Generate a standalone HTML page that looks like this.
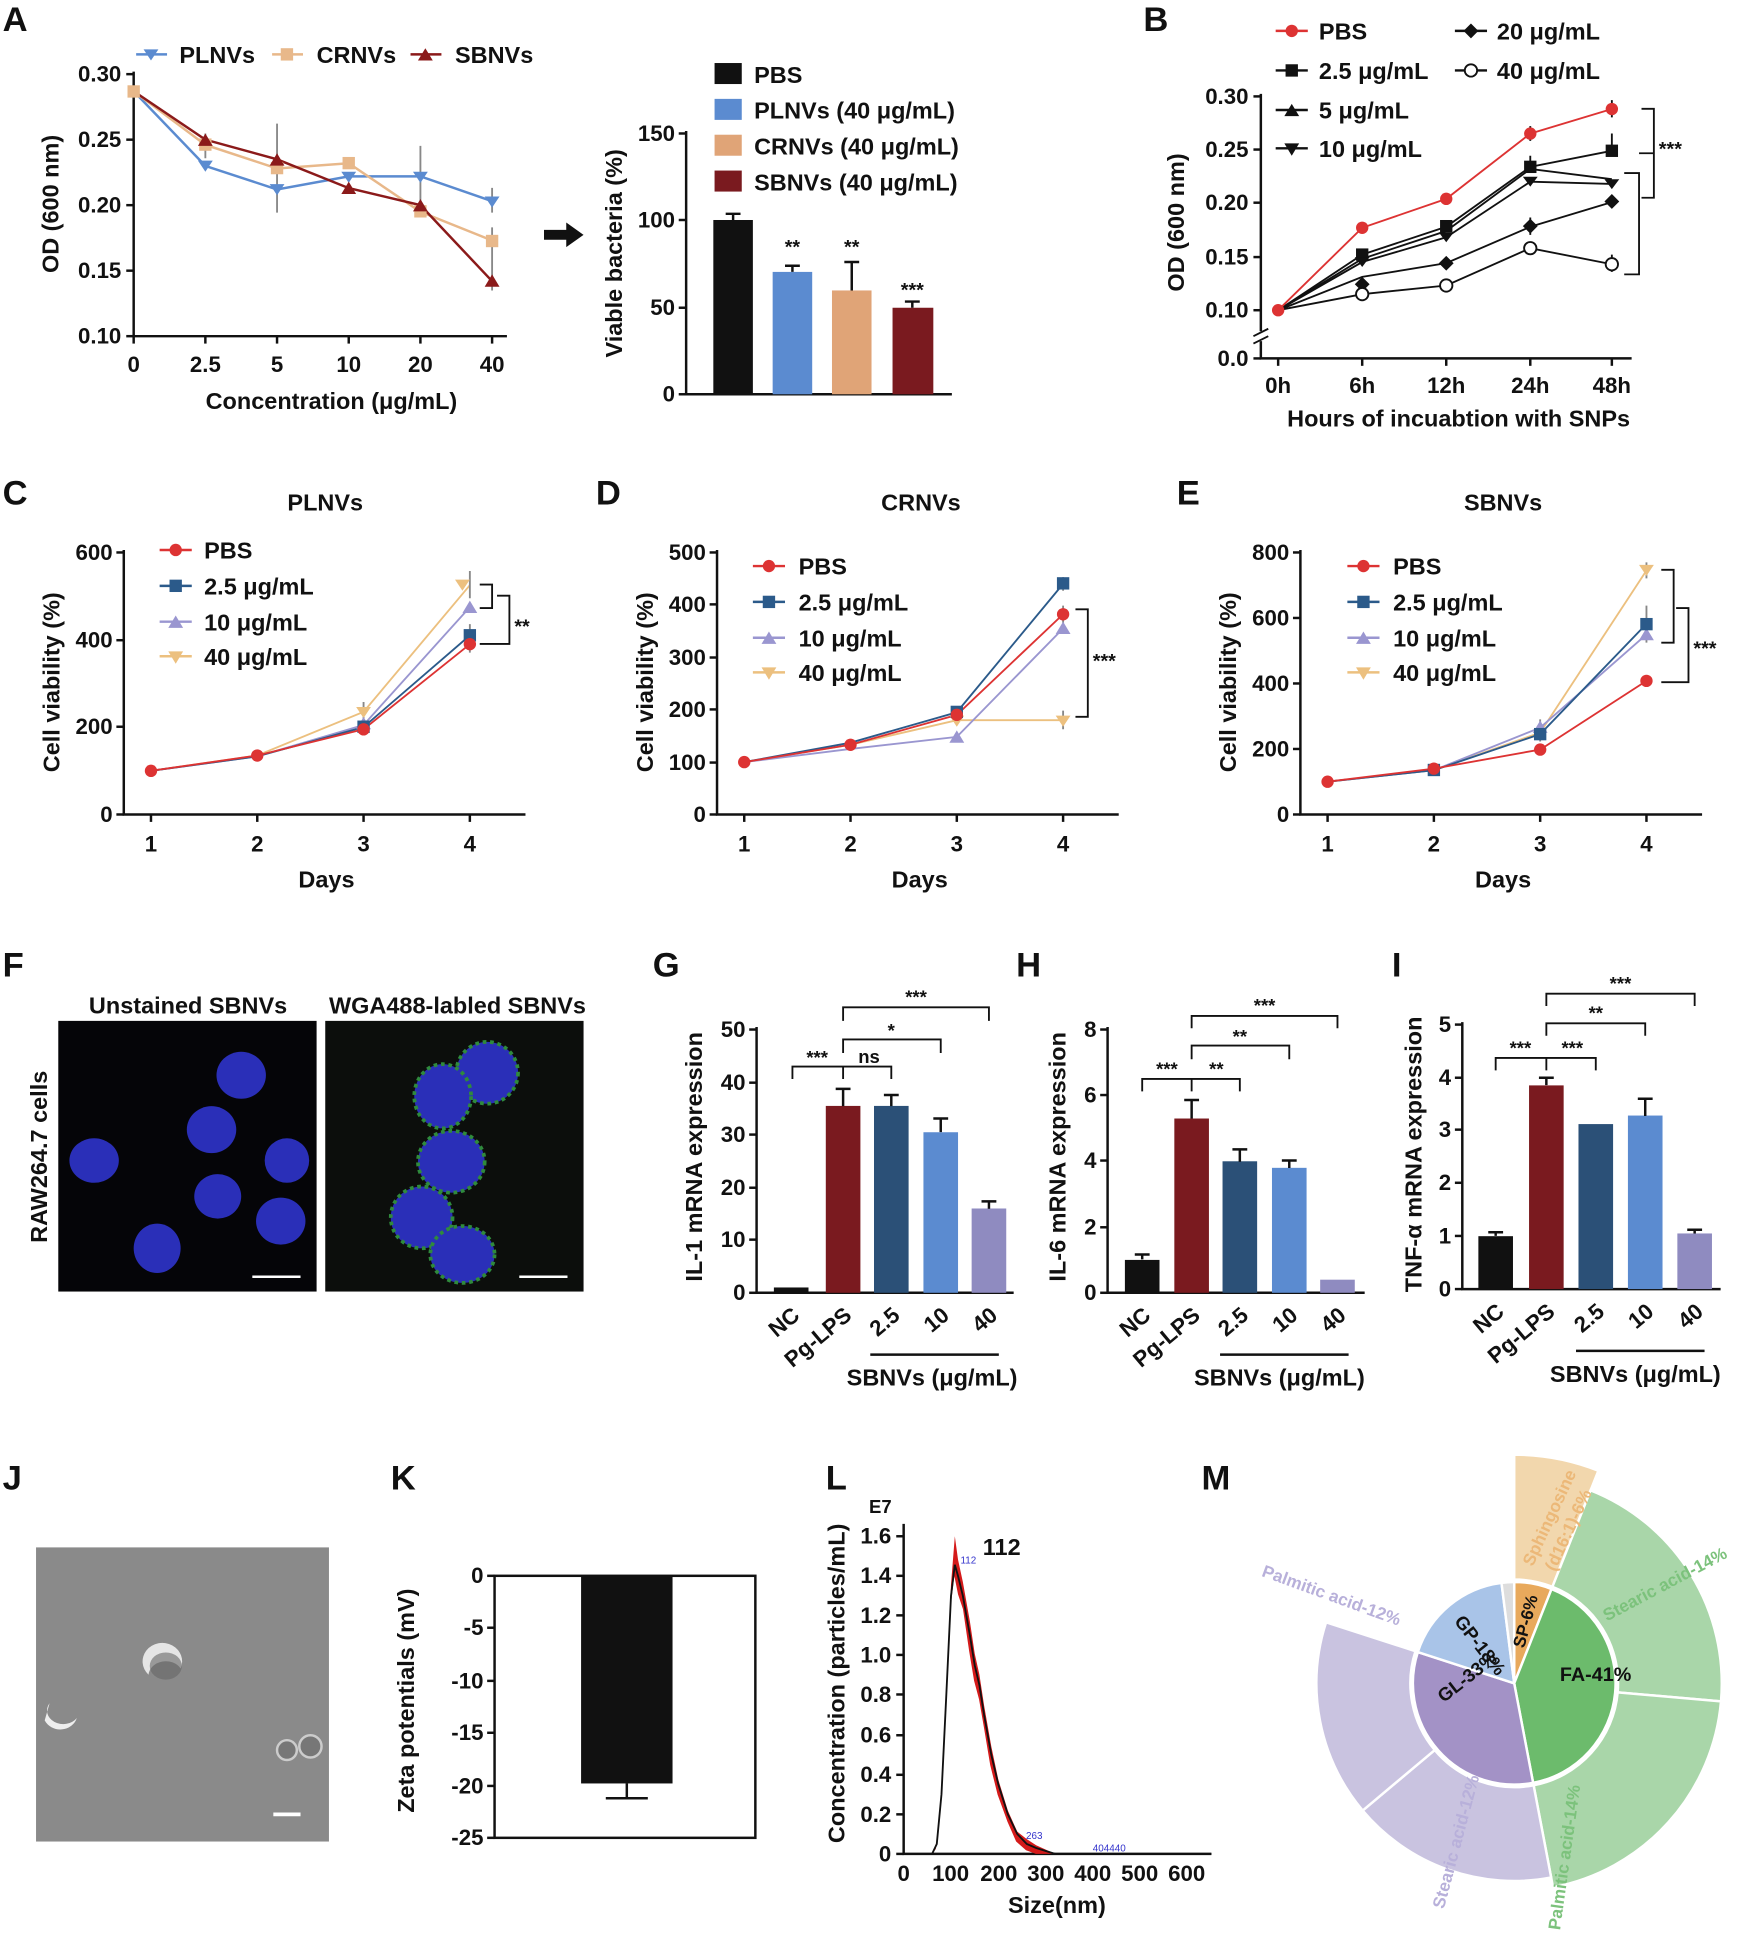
<!DOCTYPE html>
<html><head><meta charset="utf-8"><style>
html,body{margin:0;padding:0;background:#fff}
svg{display:block}
text{font-family:"Liberation Sans",Arial,sans-serif;font-weight:bold;fill:#111}
.ax{stroke:#111;stroke-width:2;fill:none}
.t{font-size:18px}
.l{font-size:19px}
.P{font-size:28px}
</style></head><body>
<svg width="1748" height="1933" viewBox="0 0 1414 1564" xmlns="http://www.w3.org/2000/svg">
<text class="P" x="2" y="25">A</text><text class="P" x="925" y="25">B</text>
<text class="P" x="2" y="408">C</text><text class="P" x="482" y="408">D</text><text class="P" x="952" y="408">E</text>
<text class="P" x="2" y="790">F</text><text class="P" x="528" y="790">G</text><text class="P" x="822" y="790">H</text><text class="P" x="1126" y="790">I</text>
<text class="P" x="2" y="1205">J</text><text class="P" x="316" y="1205">K</text><text class="P" x="668" y="1205">L</text><text class="P" x="972" y="1205">M</text>

<!-- ===== A left ===== -->
<g>
<line x1="110" y1="44" x2="135" y2="44" stroke="#5b8bd0" stroke-width="2"/><path d="M116,40 L128,40 L122,49Z" fill="#5b8bd0"/><text class="l" x="145" y="51">PLNVs</text>
<line x1="220" y1="44" x2="245" y2="44" stroke="#e8b88a" stroke-width="2"/><rect x="227" y="39" width="10" height="10" fill="#e8b88a"/><text class="l" x="256" y="51">CRNVs</text>
<line x1="332" y1="44" x2="357" y2="44" stroke="#8b1a1a" stroke-width="2"/><path d="M338,49 L350,49 L344,39Z" fill="#8b1a1a"/><text class="l" x="368" y="51">SBNVs</text>
<path class="ax" d="M108,58 V272 H410"/>
<g class="ax"><line x1="102" y1="60" x2="108" y2="60"/><line x1="102" y1="113" x2="108" y2="113"/><line x1="102" y1="166" x2="108" y2="166"/><line x1="102" y1="219" x2="108" y2="219"/><line x1="102" y1="272" x2="108" y2="272"/>
<line x1="108" y1="272" x2="108" y2="278"/><line x1="166" y1="272" x2="166" y2="278"/><line x1="224" y1="272" x2="224" y2="278"/><line x1="282" y1="272" x2="282" y2="278"/><line x1="340" y1="272" x2="340" y2="278"/><line x1="398" y1="272" x2="398" y2="278"/></g>
<g class="t" text-anchor="end"><text x="98" y="66">0.30</text><text x="98" y="119">0.25</text><text x="98" y="172">0.20</text><text x="98" y="225">0.15</text><text x="98" y="278">0.10</text></g>
<g class="t" text-anchor="middle"><text x="108" y="301">0</text><text x="166" y="301">2.5</text><text x="224" y="301">5</text><text x="282" y="301">10</text><text x="340" y="301">20</text><text x="398" y="301">40</text></g>
<text class="l" x="268" y="331" text-anchor="middle">Concentration (μg/mL)</text>
<text class="l" transform="translate(47,165) rotate(-90)" text-anchor="middle">OD (600 nm)</text>
<g stroke-width="1.5" fill="none">
<path d="M166,128V118 M224,138V172 M340,118V168 M398,152V172 M224,100V160 M398,205V235 M398,184V205 M166,108V126" stroke="#888"/>
</g>
<polyline points="108,73.8 166,134.2 224,153.3 282,142.7 340,142.7 398,162.8" fill="none" stroke="#5b8bd0" stroke-width="2"/>
<polyline points="108,73.8 166,117.2 224,136.3 282,132.1 340,171.3 398,194.6" fill="none" stroke="#e8b88a" stroke-width="2"/>
<polyline points="108,73.8 166,113 224,128.9 282,152.2 340,166 398,227.5" fill="none" stroke="#8b1a1a" stroke-width="2"/>
<g fill="#5b8bd0"><path d="M160,130h12l-6,9z M218,149h12l-6,9z M276,139h12l-6,9z M334,139h12l-6,9z M392,159h12l-6,9z"/></g>
<g fill="#e8b88a"><rect x="103" y="69" width="10" height="10"/><rect x="161" y="112" width="10" height="10"/><rect x="219" y="131" width="10" height="10"/><rect x="277" y="127" width="10" height="10"/><rect x="335" y="166" width="10" height="10"/><rect x="393" y="190" width="10" height="10"/></g>
<g fill="#8b1a1a"><path d="M160,118h12l-6,-10z M218,134h12l-6,-10z M276,157h12l-6,-10z M334,171h12l-6,-10z M392,232h12l-6,-10z"/></g>
</g>
<path d="M440,186 H458 V180 L472,190 L458,200 V194 H440Z" fill="#111"/>

<!-- ===== A right bars ===== -->
<g>
<rect x="578" y="51" width="22" height="17" fill="#111"/><text class="l" x="610" y="67">PBS</text>
<rect x="578" y="80" width="22" height="17" fill="#5b8bd0"/><text class="l" x="610" y="96">PLNVs (40 μg/mL)</text>
<rect x="578" y="109" width="22" height="17" fill="#e0a477"/><text class="l" x="610" y="125">CRNVs (40 μg/mL)</text>
<rect x="578" y="138" width="22" height="17" fill="#7a1a1f"/><text class="l" x="610" y="154">SBNVs (40 μg/mL)</text>
<path class="ax" d="M555,106 V319 H770"/>
<g class="ax"><line x1="549" y1="108" x2="555" y2="108"/><line x1="549" y1="178" x2="555" y2="178"/><line x1="549" y1="249" x2="555" y2="249"/><line x1="549" y1="319" x2="555" y2="319"/></g>
<g class="t" text-anchor="end"><text x="546" y="114">150</text><text x="546" y="184">100</text><text x="546" y="255">50</text><text x="546" y="325">0</text></g>
<text class="l" transform="translate(503,205) rotate(-90)" text-anchor="middle">Viable bacteria (%)</text>
<rect x="577" y="178" width="32" height="141" fill="#111"/><path d="M593,178V173 M587,173H599" stroke="#111" stroke-width="2"/>
<rect x="625" y="220" width="32" height="99" fill="#5b8bd0"/><path d="M641,220V215 M635,215H647" stroke="#111" stroke-width="2"/>
<rect x="673" y="235" width="32" height="84" fill="#e0a477"/><path d="M689,235V212 M683,212H695" stroke="#111" stroke-width="2"/>
<rect x="722" y="249" width="33" height="70" fill="#7a1a1f"/><path d="M738,249V244 M732,244H744" stroke="#111" stroke-width="2"/>
<g font-size="16" text-anchor="middle"><text x="641" y="205">**</text><text x="689" y="205">**</text><text x="738" y="240">***</text></g>
</g>

<!-- ===== B ===== -->
<g>
<line x1="1032" y1="25" x2="1058" y2="25" stroke="#d33" stroke-width="2"/><circle cx="1045" cy="25" r="5" fill="#d33"/><text class="l" x="1067" y="32">PBS</text>
<line x1="1032" y1="57" x2="1058" y2="57" stroke="#111" stroke-width="2"/><rect x="1040" y="52" width="10" height="10" fill="#111"/><text class="l" x="1067" y="64">2.5 μg/mL</text>
<line x1="1032" y1="89" x2="1058" y2="89" stroke="#111" stroke-width="2"/><path d="M1039,94h12l-6,-10z" fill="#111"/><text class="l" x="1067" y="96">5 μg/mL</text>
<line x1="1032" y1="120" x2="1058" y2="120" stroke="#111" stroke-width="2"/><path d="M1039,116h12l-6,10z" fill="#111"/><text class="l" x="1067" y="127">10 μg/mL</text>
<line x1="1177" y1="25" x2="1203" y2="25" stroke="#111" stroke-width="2"/><path d="M1190,19l6,6-6,6-6,-6z" fill="#111"/><text class="l" x="1211" y="32">20 μg/mL</text>
<line x1="1177" y1="57" x2="1203" y2="57" stroke="#111" stroke-width="2"/><circle cx="1190" cy="57" r="5" fill="#fff" stroke="#111" stroke-width="1.5"/><text class="l" x="1211" y="64">40 μg/mL</text>
<path class="ax" d="M1020,76 V268 M1020,276 V290 H1320"/>
<path d="M1014,272 L1026,266 M1014,278 L1026,272" stroke="#111" stroke-width="1.5"/>
<g class="ax"><line x1="1014" y1="78" x2="1020" y2="78"/><line x1="1014" y1="121" x2="1020" y2="121"/><line x1="1014" y1="164" x2="1020" y2="164"/><line x1="1014" y1="208" x2="1020" y2="208"/><line x1="1014" y1="251" x2="1020" y2="251"/><line x1="1014" y1="290" x2="1020" y2="290"/>
<line x1="1034" y1="290" x2="1034" y2="296"/><line x1="1102" y1="290" x2="1102" y2="296"/><line x1="1170" y1="290" x2="1170" y2="296"/><line x1="1238" y1="290" x2="1238" y2="296"/><line x1="1304" y1="290" x2="1304" y2="296"/></g>
<g class="t" text-anchor="end"><text x="1010" y="84">0.30</text><text x="1010" y="127">0.25</text><text x="1010" y="170">0.20</text><text x="1010" y="214">0.15</text><text x="1010" y="257">0.10</text><text x="1010" y="296">0.0</text></g>
<g class="t" text-anchor="middle"><text x="1034" y="318">0h</text><text x="1102" y="318">6h</text><text x="1170" y="318">12h</text><text x="1238" y="318">24h</text><text x="1304" y="318">48h</text></g>
<text class="l" x="1180" y="345" text-anchor="middle">Hours of incuabtion with SNPs</text>
<text class="l" transform="translate(958,180) rotate(-90)" text-anchor="middle">OD (600 nm)</text>
<g fill="none" stroke-width="1.5">
<polyline points="1034,251 1102,206 1170,183.5 1238,135 1304,122" stroke="#111"/>
<polyline points="1034,251 1102,209.4 1170,186.9 1238,136.7 1304,145" stroke="#111"/>
<polyline points="1034,251 1102,212 1170,192 1238,147 1304,148.8" stroke="#111"/>
<polyline points="1034,251 1102,224 1170,212.9 1238,183.5 1304,163.5" stroke="#111"/>
<polyline points="1034,251 1102,238 1170,231 1238,200.8 1304,213.8" stroke="#111"/>
<polyline points="1034,251 1102,184.3 1170,160.9 1238,108.1 1304,88.2" stroke="#d33"/>
<path d="M1238,102V114 M1304,81V95 M1304,108V122 M1238,126V140 M1238,176V190 M1304,206V220" stroke="#111"/>
</g>
<g fill="#111"><rect x="1097" y="201" width="10" height="10"/><rect x="1165" y="178" width="10" height="10"/><rect x="1233" y="130" width="10" height="10"/><rect x="1299" y="117" width="10" height="10"/>
<path d="M1096,230l6,-6 6,6 -6,6z M1164,213l6,-6 6,6 -6,6z M1232,183l6,-6 6,6 -6,6z M1298,163l6,-6 6,6 -6,6z"/>
<path d="M1096,208h12l-6,8z M1164,188h12l-6,8z M1232,143h12l-6,8z M1298,145h12l-6,8z"/></g>
<g fill="#fff" stroke="#111" stroke-width="1.5"><circle cx="1102" cy="238" r="5"/><circle cx="1170" cy="231" r="5"/><circle cx="1238" cy="200.8" r="5"/><circle cx="1304" cy="213.8" r="5"/></g>
<g fill="#d33"><circle cx="1034" cy="251" r="5"/><circle cx="1102" cy="184.3" r="5"/><circle cx="1170" cy="160.9" r="5"/><circle cx="1238" cy="108.1" r="5"/><circle cx="1304" cy="88.2" r="5"/></g>
<path d="M1328,88 H1338 V160 H1328 M1314,140 H1326 V222 H1314 M1338,124 H1326" fill="none" stroke="#111" stroke-width="1.5"/>
<text x="1342" y="126" font-size="16">***</text>
</g>

<!-- ===== C ===== -->
<g>
<text class="l" x="263" y="413" text-anchor="middle">PLNVs</text>
<line x1="129" y1="445" x2="155" y2="445" stroke="#d33" stroke-width="2"/><circle cx="142" cy="445" r="5" fill="#d33"/><text class="l" x="165" y="452">PBS</text>
<line x1="129" y1="474" x2="155" y2="474" stroke="#2b5a8a" stroke-width="2"/><rect x="137" y="469" width="10" height="10" fill="#2b5a8a"/><text class="l" x="165" y="481">2.5 μg/mL</text>
<line x1="129" y1="503" x2="155" y2="503" stroke="#9a96d0" stroke-width="2"/><path d="M136,508h12l-6,-10z" fill="#9a96d0"/><text class="l" x="165" y="510">10 μg/mL</text>
<line x1="129" y1="531" x2="155" y2="531" stroke="#ecc07f" stroke-width="2"/><path d="M136,527h12l-6,10z" fill="#ecc07f"/><text class="l" x="165" y="538">40 μg/mL</text>
<path class="ax" d="M100,445 V659 H425"/>
<g class="ax"><line x1="94" y1="447" x2="100" y2="447"/><line x1="94" y1="518" x2="100" y2="518"/><line x1="94" y1="588" x2="100" y2="588"/><line x1="94" y1="659" x2="100" y2="659"/>
<line x1="122" y1="659" x2="122" y2="665"/><line x1="208" y1="659" x2="208" y2="665"/><line x1="294" y1="659" x2="294" y2="665"/><line x1="380" y1="659" x2="380" y2="665"/></g>
<g class="t" text-anchor="end"><text x="91" y="453">600</text><text x="91" y="524">400</text><text x="91" y="594">200</text><text x="91" y="665">0</text></g>
<g class="t" text-anchor="middle"><text x="122" y="689">1</text><text x="208" y="689">2</text><text x="294" y="689">3</text><text x="380" y="689">4</text></g>
<text class="l" x="264" y="718" text-anchor="middle">Days</text>
<text class="l" transform="translate(48,552) rotate(-90)" text-anchor="middle">Cell viability (%)</text>
<g fill="none" stroke-width="1.5">
<polyline points="122,623.7 208,611.3 294,576 380,473.5" stroke="#ecc07f"/>
<polyline points="122,623.7 208,612 294,586.6 380,491.2" stroke="#9a96d0"/>
<polyline points="122,623.7 208,612 294,588.3 380,514.1" stroke="#2b5a8a"/>
<polyline points="122,623.7 208,611.3 294,590.1 380,521.2" stroke="#d33"/>
<path d="M380,462V484 M380,505V522 M294,568V584 M380,515V528" stroke="#888"/>
</g>
<path d="M294,572h12l-6,9z M374,469h12l-6,9z" fill="#ecc07f" transform="translate(-6,0)"/>
<path d="M374,496h12l-6,-10z M288,590h12l-6,-10z" fill="#9a96d0"/>
<rect x="375" y="509" width="10" height="10" fill="#2b5a8a"/><rect x="289" y="583" width="10" height="10" fill="#2b5a8a"/>
<g fill="#d33"><circle cx="122" cy="623.7" r="5"/><circle cx="208" cy="611.3" r="5"/><circle cx="294" cy="590.1" r="5"/><circle cx="380" cy="521.2" r="5"/></g>
<path d="M388,473 H398 V492 H388 M402,482 H412 V521 H388" fill="none" stroke="#111" stroke-width="1.5"/>
<text x="416" y="512" font-size="16">**</text>
</g>

<!-- ===== D ===== -->
<g>
<text class="l" x="745" y="413" text-anchor="middle">CRNVs</text>
<line x1="609" y1="458" x2="635" y2="458" stroke="#d33" stroke-width="2"/><circle cx="622" cy="458" r="5" fill="#d33"/><text class="l" x="646" y="465">PBS</text>
<line x1="609" y1="487" x2="635" y2="487" stroke="#2b5a8a" stroke-width="2"/><rect x="617" y="482" width="10" height="10" fill="#2b5a8a"/><text class="l" x="646" y="494">2.5 μg/mL</text>
<line x1="609" y1="516" x2="635" y2="516" stroke="#9a96d0" stroke-width="2"/><path d="M616,521h12l-6,-10z" fill="#9a96d0"/><text class="l" x="646" y="523">10 μg/mL</text>
<line x1="609" y1="544" x2="635" y2="544" stroke="#ecc07f" stroke-width="2"/><path d="M616,540h12l-6,10z" fill="#ecc07f"/><text class="l" x="646" y="551">40 μg/mL</text>
<path class="ax" d="M580,445 V659 H905"/>
<g class="ax"><line x1="574" y1="447" x2="580" y2="447"/><line x1="574" y1="489" x2="580" y2="489"/><line x1="574" y1="532" x2="580" y2="532"/><line x1="574" y1="574" x2="580" y2="574"/><line x1="574" y1="617" x2="580" y2="617"/><line x1="574" y1="659" x2="580" y2="659"/>
<line x1="602" y1="659" x2="602" y2="665"/><line x1="688" y1="659" x2="688" y2="665"/><line x1="774" y1="659" x2="774" y2="665"/><line x1="860" y1="659" x2="860" y2="665"/></g>
<g class="t" text-anchor="end"><text x="571" y="453">500</text><text x="571" y="495">400</text><text x="571" y="538">300</text><text x="571" y="580">200</text><text x="571" y="623">100</text><text x="571" y="665">0</text></g>
<g class="t" text-anchor="middle"><text x="602" y="689">1</text><text x="688" y="689">2</text><text x="774" y="689">3</text><text x="860" y="689">4</text></g>
<text class="l" x="744" y="718" text-anchor="middle">Days</text>
<text class="l" transform="translate(528,552) rotate(-90)" text-anchor="middle">Cell viability (%)</text>
<g fill="none" stroke-width="1.5">
<polyline points="602,616.6 688,602.6 774,582.7 860,582.7" stroke="#ecc07f"/>
<polyline points="602,616.6 688,606 774,596.2 860,508.5" stroke="#9a96d0"/>
<polyline points="602,616.6 688,600.9 774,576.3 860,472.4" stroke="#2b5a8a"/>
<polyline points="602,616.6 688,602.6 774,578.4 860,497" stroke="#d33"/>
<path d="M860,575V590 M860,467V478 M860,490V504" stroke="#888"/>
</g>
<path d="M854,579h12l-6,9z M768,579h12l-6,9z" fill="#ecc07f"/>
<path d="M854,513h12l-6,-10z M768,601h12l-6,-10z" fill="#9a96d0"/>
<rect x="855" y="467" width="10" height="10" fill="#2b5a8a"/><rect x="769" y="571" width="10" height="10" fill="#2b5a8a"/>
<g fill="#d33"><circle cx="602" cy="616.6" r="5"/><circle cx="688" cy="602.6" r="5"/><circle cx="774" cy="578.4" r="5"/><circle cx="860" cy="497" r="5"/></g>
<path d="M870,493 H880 V580 H870" fill="none" stroke="#111" stroke-width="1.5"/>
<text x="884" y="540" font-size="16">***</text>
</g>

<!-- ===== E ===== -->
<g>
<text class="l" x="1216" y="413" text-anchor="middle">SBNVs</text>
<line x1="1090" y1="458" x2="1116" y2="458" stroke="#d33" stroke-width="2"/><circle cx="1103" cy="458" r="5" fill="#d33"/><text class="l" x="1127" y="465">PBS</text>
<line x1="1090" y1="487" x2="1116" y2="487" stroke="#2b5a8a" stroke-width="2"/><rect x="1098" y="482" width="10" height="10" fill="#2b5a8a"/><text class="l" x="1127" y="494">2.5 μg/mL</text>
<line x1="1090" y1="516" x2="1116" y2="516" stroke="#9a96d0" stroke-width="2"/><path d="M1097,521h12l-6,-10z" fill="#9a96d0"/><text class="l" x="1127" y="523">10 μg/mL</text>
<line x1="1090" y1="544" x2="1116" y2="544" stroke="#ecc07f" stroke-width="2"/><path d="M1097,540h12l-6,10z" fill="#ecc07f"/><text class="l" x="1127" y="551">40 μg/mL</text>
<path class="ax" d="M1052,445 V659 H1377"/>
<g class="ax"><line x1="1046" y1="447" x2="1052" y2="447"/><line x1="1046" y1="500" x2="1052" y2="500"/><line x1="1046" y1="553" x2="1052" y2="553"/><line x1="1046" y1="606" x2="1052" y2="606"/><line x1="1046" y1="659" x2="1052" y2="659"/>
<line x1="1074" y1="659" x2="1074" y2="665"/><line x1="1160" y1="659" x2="1160" y2="665"/><line x1="1246" y1="659" x2="1246" y2="665"/><line x1="1332" y1="659" x2="1332" y2="665"/></g>
<g class="t" text-anchor="end"><text x="1043" y="453">800</text><text x="1043" y="506">600</text><text x="1043" y="559">400</text><text x="1043" y="612">200</text><text x="1043" y="665">0</text></g>
<g class="t" text-anchor="middle"><text x="1074" y="689">1</text><text x="1160" y="689">2</text><text x="1246" y="689">3</text><text x="1332" y="689">4</text></g>
<text class="l" x="1216" y="718" text-anchor="middle">Days</text>
<text class="l" transform="translate(1000,552) rotate(-90)" text-anchor="middle">Cell viability (%)</text>
<g fill="none" stroke-width="1.5">
<polyline points="1074,632.5 1160,623.2 1246,592.8 1332,461.6" stroke="#ecc07f"/>
<polyline points="1074,632.5 1160,623.2 1246,588.8 1332,513.3" stroke="#9a96d0"/>
<polyline points="1074,632.5 1160,623.2 1246,594 1332,504.8" stroke="#2b5a8a"/>
<polyline points="1074,632.5 1160,621.9 1246,606.5 1332,550.9" stroke="#d33"/>
<path d="M1332,490V520 M1246,582V600 M1332,455V468" stroke="#888"/>
</g>
<path d="M1326,457h12l-6,9z" fill="#ecc07f"/>
<path d="M1326,518h12l-6,-10z M1240,593h12l-6,-10z" fill="#9a96d0"/>
<rect x="1327" y="500" width="10" height="10" fill="#2b5a8a"/><rect x="1241" y="589" width="10" height="10" fill="#2b5a8a"/><rect x="1155" y="618" width="10" height="10" fill="#2b5a8a"/>
<g fill="#d33"><circle cx="1074" cy="632.5" r="5"/><circle cx="1160" cy="621.9" r="5"/><circle cx="1246" cy="606.5" r="5"/><circle cx="1332" cy="550.9" r="5"/></g>
<path d="M1344,461 H1354 V520 H1344 M1356,492 H1366 V552 H1344" fill="none" stroke="#111" stroke-width="1.5"/>
<text x="1370" y="530" font-size="16">***</text>
</g>

<!-- ===== F ===== -->
<g>
<text class="l" x="152" y="820" text-anchor="middle">Unstained SBNVs</text>
<text class="l" x="370" y="820" text-anchor="middle">WGA488-labled SBNVs</text>
<text class="l" transform="translate(38,936) rotate(-90)" text-anchor="middle">RAW264.7 cells</text>
<rect x="47" y="826" width="209" height="219" fill="#050508"/>
<rect x="263" y="826" width="209" height="219" fill="#0c0e0c"/>
<g fill="#2a2fb8"><ellipse cx="76" cy="939" rx="20" ry="18"/><ellipse cx="195" cy="870" rx="20" ry="19"/><ellipse cx="171" cy="914" rx="20" ry="19"/><ellipse cx="232" cy="939" rx="18" ry="18"/><ellipse cx="176" cy="968" rx="19" ry="18"/><ellipse cx="227" cy="988" rx="20" ry="19"/><ellipse cx="127" cy="1010" rx="19" ry="20"/></g>
<g fill="#2a2fb8" stroke="#2f8a3c" stroke-width="3" stroke-dasharray="3 3"><ellipse cx="394" cy="868" rx="25" ry="25"/><ellipse cx="358" cy="887" rx="23" ry="26"/><ellipse cx="365" cy="940" rx="27" ry="25"/><ellipse cx="341" cy="985" rx="25" ry="25"/><ellipse cx="374" cy="1015" rx="26" ry="23"/></g>
<line x1="204" y1="1033" x2="243" y2="1033" stroke="#fff" stroke-width="2"/>
<line x1="420" y1="1033" x2="459" y2="1033" stroke="#fff" stroke-width="2"/>
</g>

<!-- ===== G ===== -->
<g>
<path class="ax" d="M612,831 V1046 H820"/>
<g class="ax"><line x1="606" y1="833" x2="612" y2="833"/><line x1="606" y1="876" x2="612" y2="876"/><line x1="606" y1="918" x2="612" y2="918"/><line x1="606" y1="961" x2="612" y2="961"/><line x1="606" y1="1003" x2="612" y2="1003"/><line x1="606" y1="1046" x2="612" y2="1046"/></g>
<g class="t" text-anchor="end"><text x="603" y="839">50</text><text x="603" y="882">40</text><text x="603" y="924">30</text><text x="603" y="967">20</text><text x="603" y="1009">10</text><text x="603" y="1052">0</text></g>
<text class="l" transform="translate(568,936) rotate(-90)" text-anchor="middle">IL-1 mRNA expression</text>
<rect x="626" y="1041.7" width="28" height="4.3" fill="#111"/>
<rect x="668" y="894.8" width="28" height="151.2" fill="#7a1a1f"/>
<rect x="707" y="894.8" width="28" height="151.2" fill="#2b5077"/>
<rect x="747" y="916.1" width="28" height="129.9" fill="#5b8bd0"/>
<rect x="786" y="977.8" width="28" height="68.2" fill="#8f8bc0"/>
<path d="M682,895V881 M676,881H688 M721,895V886 M715,886H727 M761,916V905 M755,905H767 M800,978V972 M794,972H806" stroke="#111" stroke-width="2"/>
<path d="M641,873V863H682V873 M682,873V863H721V873 M682,852V841H761V852 M682,826V815H800V826" fill="none" stroke="#111" stroke-width="1.5"/>
<g font-size="15" text-anchor="middle"><text x="661" y="861">***</text><text x="703" y="860" font-weight="normal">ns</text><text x="721" y="839">*</text><text x="741" y="812">***</text></g>
<g class="t" text-anchor="end"><text transform="translate(648,1066) rotate(-40)">NC</text><text transform="translate(690,1066) rotate(-40)">Pg-LPS</text><text transform="translate(729,1066) rotate(-40)">2.5</text><text transform="translate(769,1066) rotate(-40)">10</text><text transform="translate(808,1066) rotate(-40)">40</text></g>
<line x1="704" y1="1096" x2="808" y2="1096" stroke="#111" stroke-width="2"/>
<text class="l" x="754" y="1121" text-anchor="middle">SBNVs (μg/mL)</text>
</g>

<!-- ===== H ===== -->
<g>
<path class="ax" d="M896,831 V1046 H1104"/>
<g class="ax"><line x1="890" y1="833" x2="896" y2="833"/><line x1="890" y1="886" x2="896" y2="886"/><line x1="890" y1="939" x2="896" y2="939"/><line x1="890" y1="993" x2="896" y2="993"/><line x1="890" y1="1046" x2="896" y2="1046"/></g>
<g class="t" text-anchor="end"><text x="887" y="839">8</text><text x="887" y="892">6</text><text x="887" y="945">4</text><text x="887" y="999">2</text><text x="887" y="1052">0</text></g>
<text class="l" transform="translate(862,936) rotate(-90)" text-anchor="middle">IL-6 mRNA expression</text>
<rect x="910" y="1019.4" width="28" height="26.6" fill="#111"/>
<rect x="950" y="905" width="28" height="141" fill="#7a1a1f"/>
<rect x="989" y="939.6" width="28" height="106.4" fill="#2b5077"/>
<rect x="1029" y="944.9" width="28" height="101.1" fill="#5b8bd0"/>
<rect x="1068" y="1035.4" width="28" height="10.6" fill="#8f8bc0"/>
<path d="M924,1019V1015 M918,1015H930 M964,905V890 M958,890H970 M1003,940V930 M997,930H1009 M1043,945V939 M1037,939H1049" stroke="#111" stroke-width="2"/>
<path d="M924,883V873H964V883 M964,883V873H1003V883 M964,857V846H1043V857 M964,832V822H1082V832" fill="none" stroke="#111" stroke-width="1.5"/>
<g font-size="15" text-anchor="middle"><text x="944" y="870">***</text><text x="984" y="870">**</text><text x="1003" y="844">**</text><text x="1023" y="819">***</text></g>
<g class="t" text-anchor="end"><text transform="translate(932,1066) rotate(-40)">NC</text><text transform="translate(972,1066) rotate(-40)">Pg-LPS</text><text transform="translate(1011,1066) rotate(-40)">2.5</text><text transform="translate(1051,1066) rotate(-40)">10</text><text transform="translate(1090,1066) rotate(-40)">40</text></g>
<line x1="987" y1="1096" x2="1091" y2="1096" stroke="#111" stroke-width="2"/>
<text class="l" x="1035" y="1121" text-anchor="middle">SBNVs (μg/mL)</text>
</g>

<!-- ===== I ===== -->
<g>
<path class="ax" d="M1183,827 V1043 H1392"/>
<g class="ax"><line x1="1177" y1="829" x2="1183" y2="829"/><line x1="1177" y1="872" x2="1183" y2="872"/><line x1="1177" y1="914" x2="1183" y2="914"/><line x1="1177" y1="957" x2="1183" y2="957"/><line x1="1177" y1="1000" x2="1183" y2="1000"/><line x1="1177" y1="1043" x2="1183" y2="1043"/></g>
<g class="t" text-anchor="end"><text x="1174" y="835">5</text><text x="1174" y="878">4</text><text x="1174" y="920">3</text><text x="1174" y="963">2</text><text x="1174" y="1006">1</text><text x="1174" y="1049">0</text></g>
<text class="l" transform="translate(1150,934) rotate(-90)" text-anchor="middle">TNF-α mRNA expression</text>
<rect x="1196" y="1000.2" width="28" height="42.8" fill="#111"/>
<rect x="1237" y="878.2" width="28" height="164.8" fill="#7a1a1f"/>
<rect x="1277" y="909.5" width="28" height="133.5" fill="#2b5077"/>
<rect x="1317" y="902.6" width="28" height="140.4" fill="#5b8bd0"/>
<rect x="1357" y="998" width="28" height="45" fill="#8f8bc0"/>
<path d="M1210,1000V997 M1204,997H1216 M1251,878V872 M1245,872H1257 M1331,903V889 M1325,889H1337 M1371,998V995 M1365,995H1377" stroke="#111" stroke-width="2"/>
<path d="M1210,866V856H1251V866 M1251,866V856H1291V866 M1251,838V828H1331V838 M1251,814V804H1371V814" fill="none" stroke="#111" stroke-width="1.5"/>
<g font-size="15" text-anchor="middle"><text x="1230" y="853">***</text><text x="1272" y="853">***</text><text x="1291" y="825">**</text><text x="1311" y="801">***</text></g>
<g class="t" text-anchor="end"><text transform="translate(1218,1063) rotate(-40)">NC</text><text transform="translate(1259,1063) rotate(-40)">Pg-LPS</text><text transform="translate(1299,1063) rotate(-40)">2.5</text><text transform="translate(1339,1063) rotate(-40)">10</text><text transform="translate(1379,1063) rotate(-40)">40</text></g>
<line x1="1275" y1="1093" x2="1379" y2="1093" stroke="#111" stroke-width="2"/>
<text class="l" x="1323" y="1118" text-anchor="middle">SBNVs (μg/mL)</text>
</g>

<!-- ===== J ===== -->
<g>
<rect x="29" y="1252" width="237" height="238" fill="#8a8a8a"/>
<path d="M120,1355 A16,15 0 1 1 146,1350 A14,12 0 0 0 120,1355Z" fill="#e5e5e5"/>
<ellipse cx="134" cy="1348" rx="13" ry="11" fill="#666" opacity="0.6"/>
<path d="M36,1392 A14,13 0 0 0 62,1390 A12,10 0 0 1 40,1378Z" fill="#eee"/>
<circle cx="232" cy="1416" r="8" fill="#777" stroke="#ccc" stroke-width="2"/><circle cx="251" cy="1413" r="9" fill="#777" stroke="#ccc" stroke-width="2"/>
<line x1="221" y1="1468" x2="243" y2="1468" stroke="#fff" stroke-width="3"/>
</g>

<!-- ===== K ===== -->
<g>
<rect x="400" y="1275" width="211" height="212" fill="none" stroke="#111" stroke-width="2"/>
<g class="ax"><line x1="394" y1="1275" x2="400" y2="1275"/><line x1="394" y1="1317" x2="400" y2="1317"/><line x1="394" y1="1360" x2="400" y2="1360"/><line x1="394" y1="1402" x2="400" y2="1402"/><line x1="394" y1="1445" x2="400" y2="1445"/><line x1="394" y1="1487" x2="400" y2="1487"/></g>
<g class="t" text-anchor="end"><text x="391" y="1281">0</text><text x="391" y="1323">-5</text><text x="391" y="1366">-10</text><text x="391" y="1408">-15</text><text x="391" y="1451">-20</text><text x="391" y="1493">-25</text></g>
<text class="l" transform="translate(335,1376) rotate(-90)" text-anchor="middle">Zeta potentials (mV)</text>
<rect x="470" y="1275" width="74" height="168" fill="#111"/>
<path d="M507,1443V1455 M490,1455H524" stroke="#111" stroke-width="2"/>
</g>

<!-- ===== L ===== -->
<g>
<text x="703" y="1224" font-size="15">E7</text>
<path class="ax" d="M731,1233 V1500 H980"/>
<g class="ax"><line x1="725" y1="1243" x2="731" y2="1243"/><line x1="725" y1="1275" x2="731" y2="1275"/><line x1="725" y1="1307" x2="731" y2="1307"/><line x1="725" y1="1339" x2="731" y2="1339"/><line x1="725" y1="1371" x2="731" y2="1371"/><line x1="725" y1="1404" x2="731" y2="1404"/><line x1="725" y1="1436" x2="731" y2="1436"/><line x1="725" y1="1468" x2="731" y2="1468"/><line x1="725" y1="1500" x2="731" y2="1500"/></g>
<g class="t" text-anchor="end" font-size="16"><text x="721" y="1249">1.6</text><text x="721" y="1281">1.4</text><text x="721" y="1313">1.2</text><text x="721" y="1345">1.0</text><text x="721" y="1377">0.8</text><text x="721" y="1410">0.6</text><text x="721" y="1442">0.4</text><text x="721" y="1474">0.2</text><text x="721" y="1506">0</text></g>
<g class="t" text-anchor="middle" font-size="16"><text x="731" y="1522">0</text><text x="769" y="1522">100</text><text x="808" y="1522">200</text><text x="846" y="1522">300</text><text x="884" y="1522">400</text><text x="922" y="1522">500</text><text x="960" y="1522">600</text></g>
<text class="l" x="855" y="1548" text-anchor="middle">Size(nm)</text>
<text class="l" transform="translate(683,1362) rotate(-90)" text-anchor="middle">Concentration (particles/mL)</text>
<path d="M754,1500 L757.8,1490 761.6,1448 765.5,1365 769.3,1282 772.4,1243 775,1262 778.9,1280 784.6,1312 788.5,1338 792.3,1355 796.1,1380 801.9,1413 807.6,1440 815.3,1465 822.9,1482 830.6,1488 838.2,1493 853.6,1500 L838,1500 830,1497 822,1490 815,1474 807,1452 801,1428 796,1398 792,1375 788,1360 784,1336 779,1302 775,1290 772,1275 769,1300 765,1378 761,1456 757,1496 Z" fill="#d41a1a"/>
<polyline points="754,1500 757.8,1492 761.6,1451.8 765.5,1371.5 769.3,1291.2 772.4,1266 775,1275.2 778.9,1291.2 784.6,1323.3 788.5,1347.4 792.3,1363.5 796.1,1387.6 801.9,1419.7 807.6,1443.8 815.3,1467.9 822.9,1483.9 830.6,1492 838.2,1495.2 853.6,1500 980,1500" fill="none" stroke="#111" stroke-width="1.5"/>
<text class="l" x="795" y="1258">112</text>
<text x="777" y="1265" font-size="8" style="fill:#33c;font-weight:normal">112</text>
<text x="830" y="1488" font-size="8" style="fill:#33c;font-weight:normal">263</text>
<text x="884" y="1498" font-size="8" style="fill:#33c;font-weight:normal">404440</text>
</g>

<!-- ===== M ===== -->
<g stroke="#fff" stroke-width="2">
<path d="M1225,1278 L1225,1177 A185,185 0 0 1 1293.1,1190 L1255.9,1283.9 A84,84 0 0 0 1225,1278Z" fill="#f2d7ad"/>
<path d="M1255.9,1283.9 L1286.8,1205.8 A168,168 0 0 1 1392.3,1376.6 L1308.7,1369.3 A84,84 0 0 0 1255.9,1283.9Z" fill="#a9d6a9"/>
<path d="M1308.7,1369.3 L1392.3,1376.6 A168,168 0 0 1 1256.4,1527 L1240.7,1444.5 A84,84 0 0 0 1308.7,1369.3Z" fill="#a9d6a9"/>
<path d="M1240.7,1444.5 L1254.9,1519.1 A160,160 0 0 1 1102.4,1464.9 L1160.7,1416 A84,84 0 0 0 1240.7,1444.5Z" fill="#c9c3e0"/>
<path d="M1160.7,1416 L1102.4,1464.9 A160,160 0 0 1 1072.8,1312.6 L1145.1,1336 A84,84 0 0 0 1160.7,1416Z" fill="#c9c3e0"/>
<path d="M1225,1362 L1225,1280 A82,82 0 0 1 1255.2,1285.7Z" fill="#e8a95c"/>
<path d="M1225,1362 L1255.2,1285.7 A82,82 0 0 1 1240.3,1442.5Z" fill="#6cbb6c"/>
<path d="M1225,1362 L1240.3,1442.5 A82,82 0 0 1 1147,1336.7Z" fill="#a392c6"/>
<path d="M1225,1362 L1147,1336.7 A82,82 0 0 1 1214.7,1280.7Z" fill="#a9c4e8"/>
<path d="M1225,1362 L1214.7,1280.7 A82,82 0 0 1 1225,1280Z" fill="#ddd"/>
<circle cx="1225" cy="1362" r="83" fill="none" stroke="#fff" stroke-width="3"/>
</g>
<g>
<text x="1262" y="1360" style="font-size:16px">FA-41%</text>
<text transform="translate(1168,1378) rotate(-38)" style="font-size:15px">GL-33%</text>
<text transform="translate(1176,1312) rotate(52)" style="font-size:15px">GP-18%</text>
<text transform="translate(1233,1334) rotate(-75)" style="font-size:14px">SP-6%</text>
<text transform="translate(1300,1312) rotate(-28)" style="fill:#7cc27c;font-size:14px">Stearic acid-14%</text>
<text transform="translate(1020,1275) rotate(20)" style="fill:#b8b0da;font-size:14px">Palmitic acid-12%</text>
<text transform="translate(1168,1545) rotate(-75)" style="fill:#b8b0da;font-size:14px">Stearic acid-12%</text>
<text transform="translate(1262,1562) rotate(-82)" style="fill:#7cc27c;font-size:14px">Palmitic acid-14%</text>
<text transform="translate(1240,1268) rotate(-65)" style="fill:#ecb878;font-size:14px">Sphingosine</text>
<text transform="translate(1258,1272) rotate(-65)" style="fill:#ecb878;font-size:14px">(d16:1)-6%</text>
</g>
</svg>
</body></html>
